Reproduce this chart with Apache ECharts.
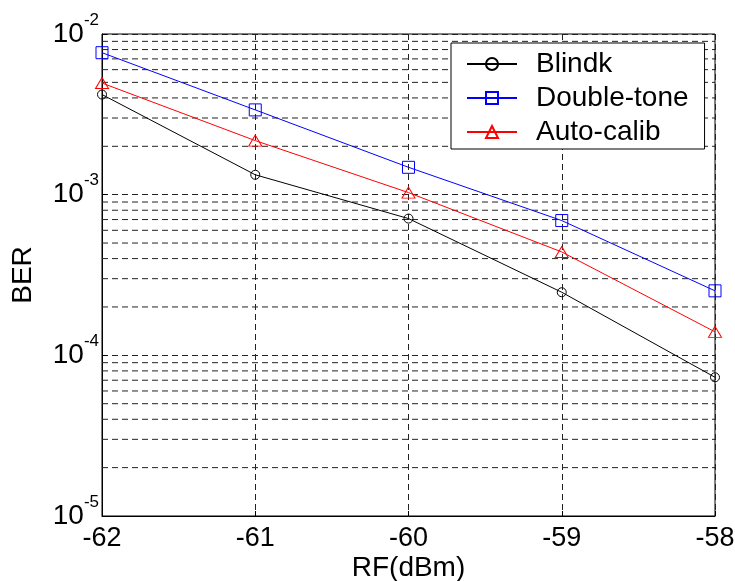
<!DOCTYPE html>
<html>
<head>
<meta charset="utf-8">
<script src="https://cdn.jsdelivr.net/npm/echarts@6/dist/echarts.min.js"></script>
<style>
  html, body { margin: 0; padding: 0; background: #fff; }
  #chart { width: 735px; height: 581px; }
</style>
</head>
<body>
<div id="chart"></div>
<script>
// RF power points (dBm)
const rfPower = [-62, -61, -60, -59, -58];
const blindk = [4.2e-3, 1.33e-3, 7.1e-4, 2.47e-4, 7.3e-5];
const doubleTone = [7.65e-3, 3.37e-3, 1.48e-3, 6.9e-4, 2.52e-4];
const autoCalib = [4.95e-3, 2.17e-3, 1.03e-3, 4.4e-4, 1.4e-4];

const xTicks = [-62, -61, -60, -59, -58];
const decades = [1e-5, 1e-4, 1e-3, 1e-2];
const minorSteps = [2, 3, 4, 5, 6, 7, 8, 9];

const fontFamily = "Liberation Sans, Arial, sans-serif";
const gridDash = [6, 4];

// minor log grid lines (2..9 inside every decade), one broken line series
const minorGrid = [];
decades.slice(0, 3).forEach((d) => {
  minorSteps.forEach((m) => {
    minorGrid.push([xTicks[0], d * m], [xTicks[xTicks.length - 1], d * m], [xTicks[0], "-"]);
  });
});

function toPairs(ys) {
  return rfPower.map((x, i) => [x, ys[i]]);
}

function lineSeries(name, ys, color, symbol, size) {
  return {
    name,
    type: "line",
    data: toPairs(ys),
    symbol,
    symbolSize: size,
    z: 3,
    lineStyle: { color, width: 1 },
    itemStyle: { color: "rgba(255,255,255,0)", borderColor: color, borderWidth: 1 },
  };
}

const chart = echarts.init(document.getElementById("chart"));
chart.setOption({
  animation: false,
  textStyle: { fontFamily },
  grid: {
    left: 102,
    top: 34,
    right: 20,
    bottom: 65,
    outerBoundsMode: "none",
    containLabel: false,
    show: true,
    borderColor: "#000",
    borderWidth: 1,
  },
  legend: {
    data: ["Blindk", "Double-tone", "Auto-calib"],
    orient: "vertical",
    left: 451,
    top: 43,
    padding: [7, 16, 3, 15],
    itemWidth: 50,
    itemHeight: 15,
    itemGap: 6,
    backgroundColor: "#fff",
    borderColor: "#000",
    borderWidth: 1,
    textStyle: { fontSize: 28, lineHeight: 26, color: "#000", padding: [0, 0, 0, 14] },
  },
  xAxis: {
    type: "value",
    min: -62,
    max: -58,
    interval: 1,
    name: "RF(dBm)",
    nameLocation: "middle",
    nameGap: 38,
    nameMoveOverlap: false,
    nameTextStyle: { fontSize: 28, color: "#000" },
    axisLine: { lineStyle: { color: "#000", width: 1 } },
    axisTick: { inside: true, length: 5, lineStyle: { color: "#000" } },
    axisLabel: {
      fontSize: 27,
      color: "#000",
      margin: 9,
      formatter: (v) => (xTicks.includes(v) ? String(v) : ""),
    },
    splitLine: { show: true, lineStyle: { color: "#222", type: gridDash, width: 1 } },
  },
  yAxis: {
    type: "log",
    logBase: 10,
    min: 1e-5,
    max: 1e-2,
    name: "BER",
    nameLocation: "middle",
    nameGap: 65,
    nameMoveOverlap: false,
    nameTextStyle: { fontSize: 28, color: "#000" },
    axisLine: { lineStyle: { color: "#000", width: 1 } },
    axisTick: { inside: true, length: 5, lineStyle: { color: "#000" } },
    axisLabel: {
      color: "#000",
      margin: 3,
      formatter: (v) => "{b|10}{s|" + Math.round(Math.log10(v)) + "}",
      rich: {
        b: { fontSize: 28, color: "#000", fontFamily },
        s: { fontSize: 17, color: "#000", fontFamily, padding: [0, 0, 28, 0] },
      },
    },
    splitLine: { show: true, lineStyle: { color: "#222", type: gridDash, width: 1 } },
  },
  series: [
    {
      name: "grid-minor",
      type: "line",
      data: minorGrid,
      silent: true,
      showSymbol: false,
      symbol: "none",
      connectNulls: false,
      z: 1,
      lineStyle: { color: "#222", type: gridDash, width: 1 },
    },
    lineSeries("Blindk", blindk, "#000000", "circle", 9),
    lineSeries("Double-tone", doubleTone, "#0000ff", "rect", 12),
    lineSeries("Auto-calib", autoCalib, "#ff0000", "triangle", [13, 11]),
  ],
});
</script>
</body>
</html>
